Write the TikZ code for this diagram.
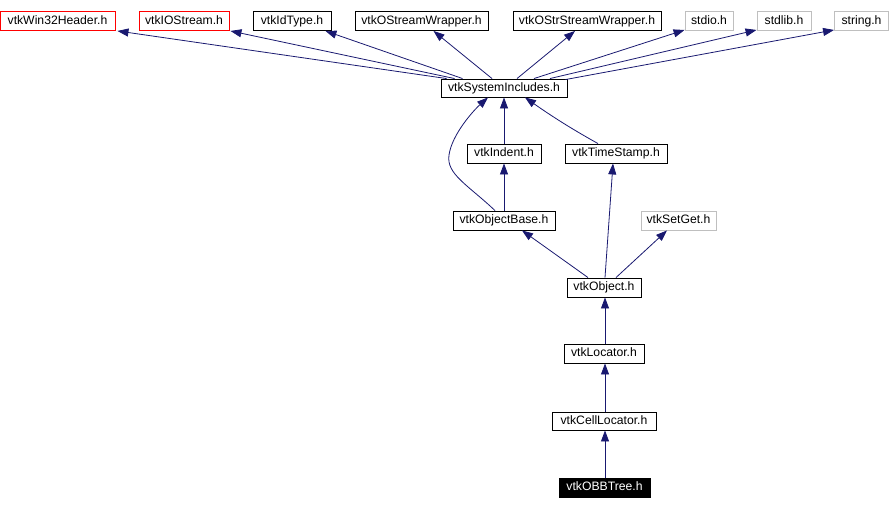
\documentclass[tikz,border=0pt]{standalone}
\usepackage{fontspec}
\setmainfont{Liberation Sans}
\usetikzlibrary{arrows.meta,calc}
\definecolor{edgeblue}{HTML}{191970}
\definecolor{lightgr}{HTML}{BFBFBF}
\begin{document}
\begin{tikzpicture}[x=1pt,y=-1pt,
  hbox/.style={draw=black, line width=0.9pt, minimum height=19pt, inner sep=0pt,
    font=\fontsize{12.2}{14}\selectfont, text height=9.2pt, text depth=2.4pt},
  redbox/.style={hbox, draw=red},
  graybox/.style={hbox, draw=lightgr},
  mainbox/.style={hbox, fill=black, text=white},
  edge/.style={draw=edgeblue, line width=0.8pt, -{Triangle[length=11pt,width=8pt]}}]
\useasboundingbox (0,0) rectangle (890,509);
% nodes
\node[redbox, minimum width=115pt] (win) at (57.5,21) {vtkWin32Header.h};
\node[redbox, minimum width=90pt] (ios) at (184,21) {vtkIOStream.h};
\node[hbox, minimum width=78pt] (idt) at (292,21) {vtkIdType.h};
\node[hbox, minimum width=133pt] (osw) at (421.5,21) {vtkOStreamWrapper.h};
\node[hbox, minimum width=148pt] (ossw) at (587,21) {vtkOStrStreamWrapper.h};
\node[graybox, minimum width=48pt] (stdio) at (709,21) {stdio.h};
\node[graybox, minimum width=54pt] (stdlib) at (784,21) {stdlib.h};
\node[graybox, minimum width=54pt] (string) at (861.5,21) {string.h};
\node[hbox, minimum width=126pt, minimum height=18pt] (sys) at (504,88) {vtkSystemIncludes.h};
\node[hbox, minimum width=74pt] (ind) at (504,153.5) {vtkIndent.h};
\node[hbox, minimum width=102pt] (ts) at (616,153.5) {vtkTimeStamp.h};
\node[hbox, minimum width=102pt] (ob) at (504,220.5) {vtkObjectBase.h};
\node[graybox, minimum width=75pt] (sg) at (678.5,220.5) {vtkSetGet.h};
\node[hbox, minimum width=74pt] (obj) at (604,287.5) {vtkObject.h};
\node[hbox, minimum width=80pt] (loc) at (604,353.5) {vtkLocator.h};
\node[hbox, minimum width=104pt, minimum height=18pt] (cl) at (604,421) {vtkCellLocator.h};
\node[mainbox, minimum width=91pt] (obb) at (604.5,487.5) {vtkOBBTree.h};
% edges from vtkSystemIncludes
\draw[edge] ($(sys.north west)+(6,0)$) -- ($(win.south east)+(2,0)$);
\draw[edge] ($(sys.north west)+(14,0)$) -- ($(ios.south east)+(1,0)$);
\draw[edge] ($(sys.north west)+(22,0)$) -- ($(idt.south east)+(-6,0)$);
\draw[edge] ($(sys.north)+(-12,0)$) -- ($(osw.south)+(12,0)$);
\draw[edge] ($(sys.north)+(13,0)$) -- ($(ossw.south)+(-12,0)$);
\draw[edge] ($(sys.north)+(30,0)$) -- ($(stdio.south west)+(0,-1)$);
\draw[edge] ($(sys.north)+(46,0)$) -- ($(stdlib.south west)+(0,-1)$);
\draw[edge] ($(sys.north east)+(-2,1)$) -- ($(string.south west)+(0,-1)$);
% middle
\draw[edge] (ind.north) -- (sys.south);
\draw[edge] ($(ob.north)+(-9,0)$) .. controls (468,185) and (446,174) .. (449,155)
   .. controls (452,134) and (474,110) .. ($(sys.south)+(-16,0)$);
\draw[edge] ($(ts.north)+(-18,0)$) .. controls (570,128) and (550,115) .. ($(sys.south)+(21,0)$);
\draw[edge] (ob.north) -- (ind.south);
\draw[edge] ($(obj.north)+(-16,0)$) -- ($(ob.south)+(18,0)$);
\draw[edge] ($(obj.north)+(1,0)$) -- ($(ts.south)+(-3,0)$);
\draw[edge] ($(obj.north)+(12,0)$) -- ($(sg.south)+(-11.5,0)$);
\draw[edge] ($(loc.north)+(1,0)$) -- ($(obj.south)+(1,0)$);
\draw[edge] ($(cl.north)+(1,0)$) -- ($(loc.south)+(1,0)$);
\draw[edge] ($(obb.north)+(0.5,0)$) -- ($(cl.south)+(1,0)$);
\end{tikzpicture}
\end{document}
